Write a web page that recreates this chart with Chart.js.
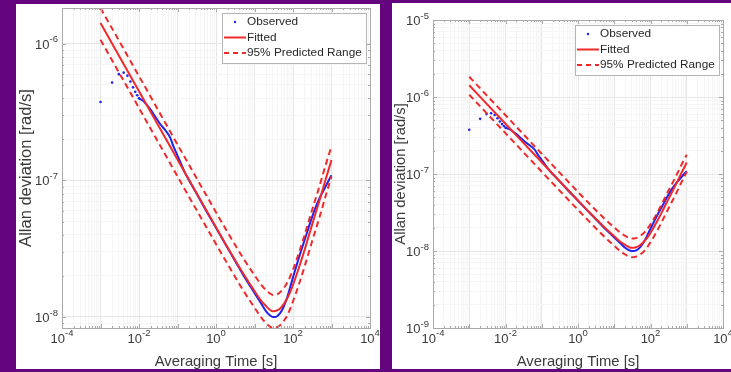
<!DOCTYPE html>
<html>
<head>
<meta charset="utf-8">
<script src="https://cdn.jsdelivr.net/npm/chart.js@4.4.0/dist/chart.umd.min.js"></script>
<style>
  html, body { margin: 0; padding: 0; width: 731px; height: 372px; overflow: hidden; background: #65047f; }
  .panel { position: absolute; background: #fff; }
  #left  { left: 16px;  top: 4px; width: 364px; height: 365px; }
  #right { left: 392px; top: 3px; width: 339px; height: 366px; }
  canvas { display: block; }
</style>
</head>
<body>
<div class="panel" id="left"><canvas id="c1" width="364" height="365"></canvas></div>
<div class="panel" id="right"><canvas id="c2" width="339" height="366"></canvas></div>
<script>
// ── Data ──────────────────────────────────────────────────────────

// Fitted Allan deviation and its 95% band
const tauFit  = [1e-3, 1e-2, 0.1, 1, 2, 5, 10, 15, 20, 25, 30, 40, 50, 70, 100, 150, 200, 300, 500, 700, 1000];
const fitted  = [1.42e-6, 4.49e-7, 1.42e-7, 4.53e-8, 3.23e-8, 2.1e-8, 1.55e-8, 1.31e-8, 1.2e-8, 1.13e-8, 1.1e-8,
                 1.12e-8, 1.18e-8, 1.36e-8, 1.72e-8, 2.4e-8, 3.1e-8, 4.55e-8, 7.3e-8, 1.01e-7, 1.41e-7];
const upper95 = [1.83e-6, 5.8e-7, 1.83e-7, 5.85e-8, 4.17e-8, 2.72e-8, 2.02e-8, 1.72e-8, 1.57e-8, 1.49e-8, 1.45e-8,
                 1.47e-8, 1.55e-8, 1.77e-8, 2.22e-8, 3.08e-8, 3.98e-8, 5.83e-8, 9.3e-8, 1.29e-7, 1.78e-7];
const lower95 = [1.07e-6, 3.39e-7, 1.07e-7, 3.42e-8, 2.44e-8, 1.58e-8, 1.17e-8, 9.9e-9, 9.0e-9, 8.5e-9, 8.3e-9,
                 8.45e-9, 8.9e-9, 1.02e-8, 1.3e-8, 1.81e-8, 2.34e-8, 3.44e-8, 5.5e-8, 7.65e-8, 1.07e-7];

// Observed Allan deviation (first ten are isolated dots)
const tauObs   = [1e-3, 2e-3, 3e-3, 4e-3, 5e-3, 6e-3, 7e-3, 8e-3, 9e-3, 1e-2,
                  0.0125, 0.015, 0.02, 0.025, 0.035, 0.05, 0.065, 0.08, 0.1, 0.13, 0.16, 0.2, 0.3, 0.5,
                  1, 2, 5, 10, 15, 20, 25, 30, 35, 40, 50, 70, 100, 150, 200, 300, 400, 500, 600, 800, 1000];
const observed = [3.75e-7, 5.2e-7, 6.0e-7, 6.15e-7, 5.85e-7, 5.3e-7, 4.8e-7, 4.45e-7, 4.2e-7, 4.0e-7,
                  3.85e-7, 3.65e-7, 3.3e-7, 3.0e-7, 2.6e-7, 2.3e-7, 2.05e-7, 1.75e-7, 1.52e-7, 1.28e-7, 1.12e-7, 1.0e-7, 8.2e-8, 6.3e-8,
                  4.5e-8, 3.2e-8, 2.05e-8, 1.5e-8, 1.25e-8, 1.1e-8, 1.03e-8, 1.0e-8, 1.0e-8, 1.02e-8, 1.1e-8, 1.38e-8, 1.95e-8, 2.85e-8,
                  3.65e-8, 5.2e-8, 6.5e-8, 7.5e-8, 8.3e-8, 9.7e-8, 1.09e-7];
const dotCount = 10;

// Axes
const xTickExps      = [-4, -2, 0, 2, 4];
const leftYTickExps  = [-8, -7, -6];
const rightYTickExps = [-9, -8, -7, -6, -5];
const legendLabels   = ['Observed', 'Fitted', '95% Predicted Range'];
const xTitle = 'Averaging Time [s]';
const yTitle = 'Allan deviation [rad/s]';

// ── Style ─────────────────────────────────────────────────────────
const BLUE = '#2222ee';
const RED  = '#f02a2a';
const TEXT = '#3a3a3a';
const FONT = '"Liberation Sans", Arial, Helvetica, sans-serif';

// ── Helpers ───────────────────────────────────────────────────────

function decadeTicks(min, max) {
  const ticks = [];
  for (let e = Math.floor(Math.log10(min)); e <= Math.ceil(Math.log10(max)); e++) {
    for (let m = 1; m <= 9; m++) {
      const v = m * Math.pow(10, e);
      if (v >= min * 0.9999 && v <= max * 1.0001) ticks.push({ value: v, major: m === 1 });
    }
  }
  return ticks;
}

function pts(xs, ys) {
  return xs.map((x, i) => ({ x, y: ys[i] }));
}

function drawPow(ctx, exp, x, y, align) {
  // "10" with a raised exponent, MATLAB style
  const base = '10', sup = String(exp);
  ctx.font = '13px ' + FONT;
  const wb = ctx.measureText(base).width;
  ctx.font = '9.5px ' + FONT;
  const ws = ctx.measureText(sup).width;
  const left = align === 'center' ? x - (wb + ws) / 2 : x - wb - ws;
  ctx.textAlign = 'left';
  ctx.textBaseline = 'middle';
  ctx.font = '13px ' + FONT;
  ctx.fillText(base, left, y);
  ctx.font = '9.5px ' + FONT;
  ctx.fillText(sup, left + wb, y - 5.5);
}

// Box, inward ticks, exponent labels, titles and legend
const matlabAxes = {
  id: 'matlabAxes',
  afterDraw(chart, args, opts) {
    const { ctx, chartArea: a, scales: { x, y } } = chart;
    ctx.save();

    // box + inward ticks
    ctx.strokeStyle = '#aaaaaa';
    ctx.lineWidth = 1;
    ctx.strokeRect(Math.round(a.left) + 0.5, Math.round(a.top) + 0.5,
                   Math.round(a.right - a.left), Math.round(a.bottom - a.top));
    ctx.beginPath();
    x.ticks.forEach(t => {
      const px = Math.round(x.getPixelForValue(t.value)) + 0.5, len = t.major ? 4 : 2;
      ctx.moveTo(px, a.bottom); ctx.lineTo(px, a.bottom - len);
      ctx.moveTo(px, a.top);    ctx.lineTo(px, a.top + len);
    });
    y.ticks.forEach(t => {
      const py = Math.round(y.getPixelForValue(t.value)) + 0.5, len = t.major ? 4 : 2;
      ctx.moveTo(a.left, py);  ctx.lineTo(a.left + len, py);
      ctx.moveTo(a.right, py); ctx.lineTo(a.right - len, py);
    });
    ctx.stroke();

    // tick labels
    ctx.fillStyle = TEXT;
    xTickExps.forEach(e => drawPow(ctx, e, x.getPixelForValue(Math.pow(10, e)), a.bottom + 11, 'center'));
    opts.yExps.forEach(e => drawPow(ctx, e, a.left - 4, y.getPixelForValue(Math.pow(10, e)) + 1.5, 'right'));

    // axis titles
    ctx.textAlign = 'center';
    ctx.textBaseline = 'middle';
    ctx.font = '14.8px ' + FONT;
    ctx.fillText(xTitle, (a.left + a.right) / 2, a.bottom + 34);
    ctx.save();
    ctx.translate(a.left - opts.yTitleOffset, (a.top + a.bottom) / 2);
    ctx.rotate(-Math.PI / 2);
    ctx.font = opts.yTitleSize + 'px ' + FONT;
    ctx.fillText(yTitle, 0, 0);
    ctx.restore();

    // legend
    const LW = 144, LH = 50;
    const lx = Math.round(a.right - 4 - LW), ly = Math.round(a.top + 5);
    ctx.fillStyle = '#fff';
    ctx.fillRect(lx, ly, LW, LH);
    ctx.strokeStyle = '#b5b5b5';
    ctx.lineWidth = 1;
    ctx.strokeRect(lx + 0.5, ly + 0.5, LW, LH);
    const rowY = i => ly + 9 + i * 15.5;
    ctx.fillStyle = BLUE;
    ctx.beginPath(); ctx.arc(lx + 13, rowY(0), 1.2, 0, Math.PI * 2); ctx.fill();
    ctx.strokeStyle = RED; ctx.lineWidth = 2;
    ctx.beginPath(); ctx.moveTo(lx + 2, rowY(1)); ctx.lineTo(lx + 24, rowY(1)); ctx.stroke();
    ctx.setLineDash([5, 4]);
    ctx.beginPath(); ctx.moveTo(lx + 2, rowY(2)); ctx.lineTo(lx + 24, rowY(2)); ctx.stroke();
    ctx.setLineDash([]);
    ctx.fillStyle = '#262626';
    ctx.font = '11.8px ' + FONT;
    ctx.textAlign = 'left';
    legendLabels.forEach((lab, i) => ctx.fillText(lab, lx + 25, rowY(i)));

    ctx.restore();
  }
};

function logAxis(min, max) {
  return {
    type: 'logarithmic',
    min, max,
    ticks: { display: false },
    border: { display: false },
    grid: {
      drawTicks: false,
      lineWidth: 1,
      color: c => (c.tick && c.tick.major) ? '#e6e6e6' : '#f5f5f5'
    },
    afterBuildTicks: s => { s.ticks = decadeTicks(min, max); }
  };
}

function makeChart(canvasId, cfg) {
  const dashed = (data) => ({
    data, borderColor: RED, borderWidth: 2, borderDash: [6, 4], pointRadius: 0,
    cubicInterpolationMode: 'monotone', fill: false, order: 0
  });
  return new Chart(document.getElementById(canvasId), {
    type: 'line',
    data: {
      datasets: [
        dashed(pts(tauFit, upper95)),
        dashed(pts(tauFit, lower95)),
        { data: pts(tauFit, fitted), borderColor: RED, borderWidth: 2, pointRadius: 0,
          cubicInterpolationMode: 'monotone', fill: false, order: 1 },
        { data: pts(tauObs, observed), borderColor: BLUE, borderWidth: 2,
          pointRadius: tauObs.map((t, i) => i < dotCount ? 1.3 : 0),
          pointBackgroundColor: BLUE, pointBorderWidth: 0,
          segment: { borderColor: c => c.p0DataIndex < dotCount - 1 ? 'rgba(0,0,0,0)' : undefined },
          cubicInterpolationMode: 'monotone', fill: false, order: 2 }
      ]
    },
    options: {
      responsive: false,
      animation: false,
      events: [],
      layout: { padding: cfg.padding },
      plugins: {
        legend: { display: false },
        tooltip: { enabled: false },
        matlabAxes: { yExps: cfg.yExps, yTitleOffset: cfg.yTitleOffset, yTitleSize: cfg.yTitleSize }
      },
      scales: {
        x: logAxis(1e-4, 1e4),
        y: logAxis(cfg.yMin, cfg.yMax)
      }
    },
    plugins: [matlabAxes]
  });
}

makeChart('c1', { yMin: 8.3e-9, yMax: 1.83e-6, yExps: leftYTickExps, yTitleOffset: 36, yTitleSize: 16.5,
                  padding: { left: 46, right: 10, top: 1, bottom: 41 } });
makeChart('c2', { yMin: 1e-9, yMax: 1e-5, yExps: rightYTickExps, yTitleOffset: 32, yTitleSize: 14.8,
                  padding: { left: 41, right: 8, top: 17, bottom: 41 } });
</script>
</body>
</html>
